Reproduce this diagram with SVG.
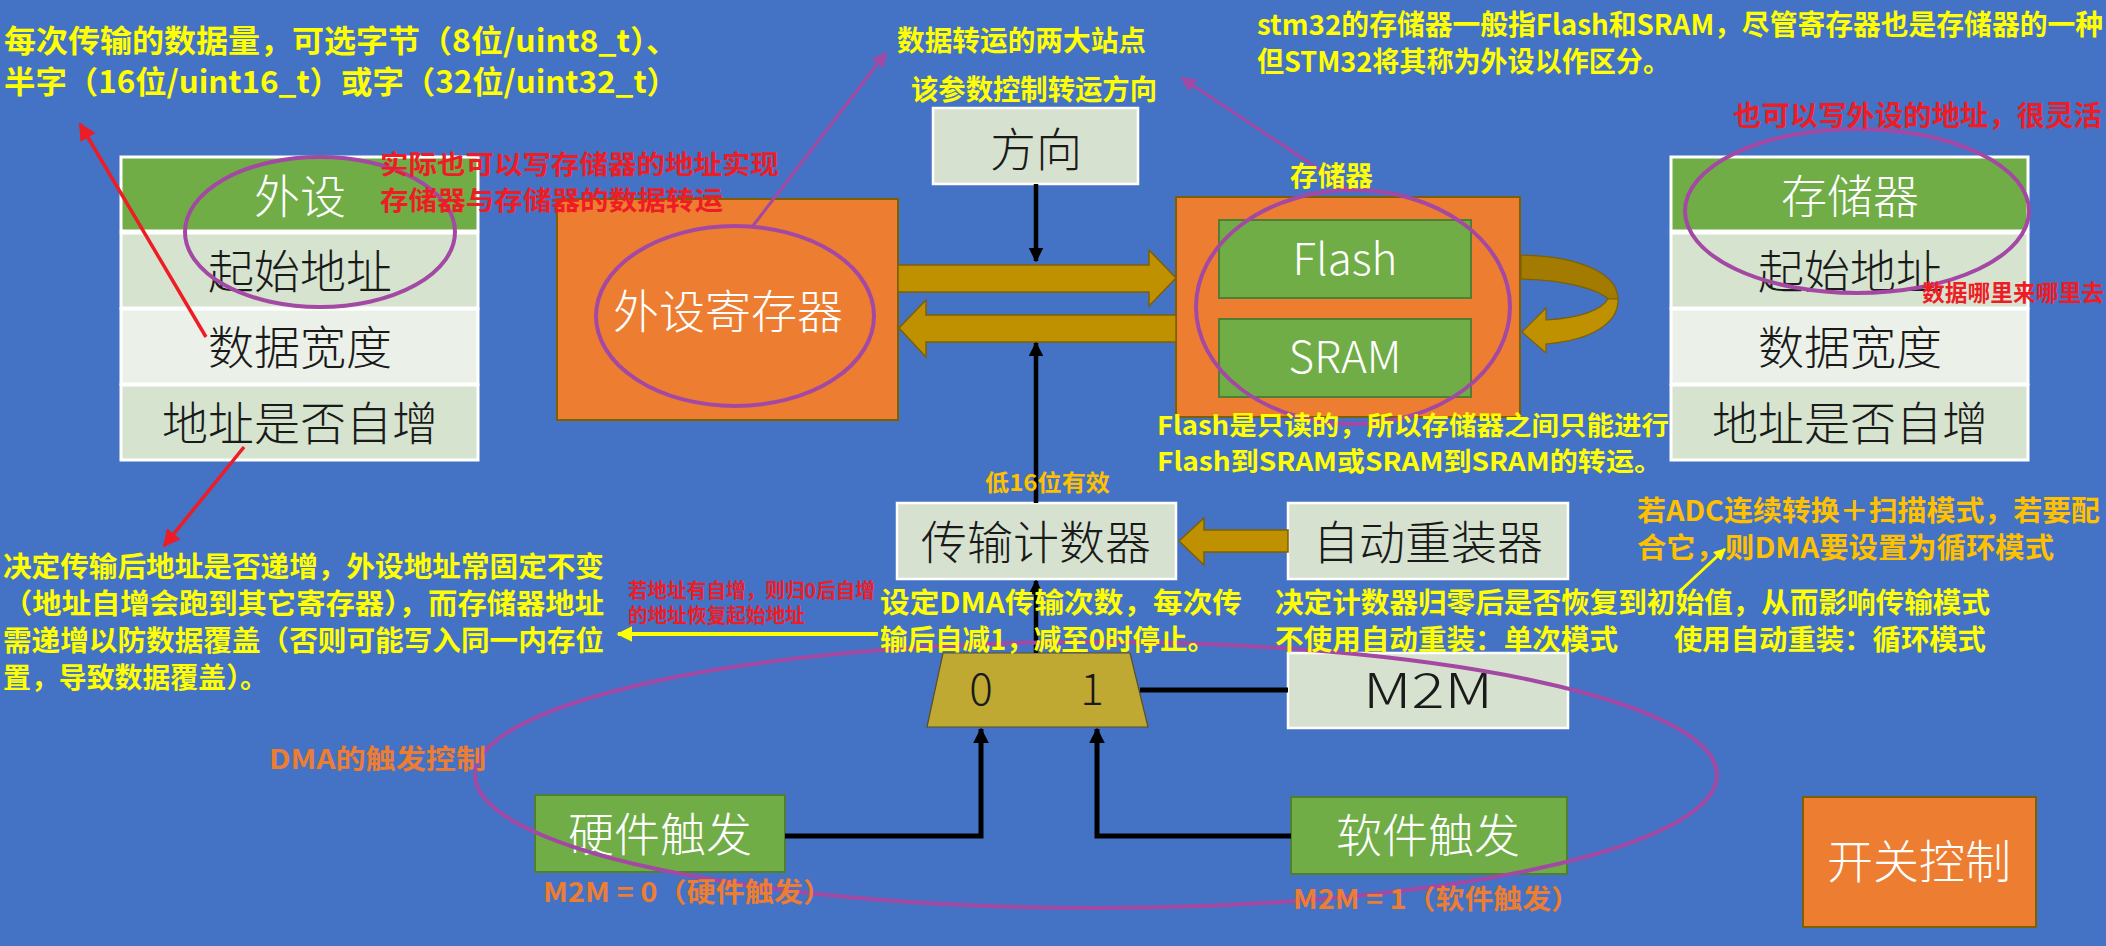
<svg xmlns="http://www.w3.org/2000/svg" width="2106" height="946" viewBox="0 0 2106 946">
<defs>
<style>
text{font-family:"Noto Sans CJK SC","Noto Sans",sans-serif}
.lbl{font-size:46px;font-weight:300;fill:#1a1a1a;text-anchor:middle}
.wl{font-size:46px;font-weight:300;fill:#ffffff;text-anchor:middle}
.ann{font-weight:bold;font-size:28px}
.y{fill:#FFFF00}
.r{fill:#EE1C25}
.g{fill:#FFC000}
.o{fill:#ED7D31}
.hdr{fill:#70AD47;stroke:#ffffff;stroke-width:3}
.row1{fill:#D5E3CF;stroke:#ffffff;stroke-width:3}
.row2{fill:#EBF1E9;stroke:#ffffff;stroke-width:3}
.lbox{fill:#D6E2CF;stroke:#ffffff;stroke-width:2.5}
.obox{fill:#ED7D31;stroke:#7F6000;stroke-width:2}
.gbox{fill:#70AD47;stroke:#507E32;stroke-width:2}
.gold{fill:#BF9000;stroke:#7F6000;stroke-width:1.5}
.ell{fill:none;stroke:#A349A4;stroke-width:4}
.blk{fill:none;stroke:#000000;stroke-width:5}
.pl{fill:none;stroke:#A349A4;stroke-width:3}
.rl{fill:none;stroke:#EE1C25;stroke-width:3.5}
.yl{fill:none;stroke:#FFFF00;stroke-width:4}
</style>
<marker id="ah-blk" viewBox="0 0 10 10" refX="9" refY="5" markerWidth="3.2" markerHeight="3.2" orient="auto" markerUnits="strokeWidth"><path d="M0,0 L10,5 L0,10 Z" fill="#000"/></marker>
<marker id="ah-p" viewBox="0 0 10 10" refX="9" refY="5" markerWidth="5" markerHeight="5" orient="auto" markerUnits="strokeWidth"><path d="M0,0 L10,5 L0,10 Z" fill="#A349A4"/></marker>
<marker id="ah-r" viewBox="0 0 10 10" refX="9" refY="5" markerWidth="5" markerHeight="5" orient="auto" markerUnits="strokeWidth"><path d="M0,0 L10,5 L0,10 Z" fill="#EE1C25"/></marker>
<marker id="ah-y" viewBox="0 0 10 10" refX="9" refY="5" markerWidth="4" markerHeight="4" orient="auto" markerUnits="strokeWidth"><path d="M0,0 L10,5 L0,10 Z" fill="#FFFF00"/></marker>
</defs>
<rect x="0" y="0" width="2106" height="946" fill="#4472C4"/>

<!-- peripheral table -->
<g id="table-peripheral">
<rect class="hdr" x="121" y="157" width="357" height="74"/>
<rect class="row1" x="121" y="233" width="357" height="75"/>
<rect class="row2" x="121" y="309" width="357" height="75"/>
<rect class="row1" x="121" y="385" width="357" height="75"/>
<text class="wl" x="300" y="213">外设</text>
<text class="lbl" x="300" y="288">起始地址</text>
<text class="lbl" x="300" y="364">数据宽度</text>
<text class="lbl" x="300" y="440">地址是否自增</text>
</g>

<!-- memory table -->
<g id="table-memory">
<rect class="hdr" x="1671" y="157" width="357" height="74"/>
<rect class="row1" x="1671" y="233" width="357" height="75"/>
<rect class="row2" x="1671" y="309" width="357" height="75"/>
<rect class="row1" x="1671" y="385" width="357" height="75"/>
<text class="wl" x="1850" y="213">存储器</text>
<text class="lbl" x="1850" y="288">起始地址</text>
<text class="lbl" x="1850" y="364">数据宽度</text>
<text class="lbl" x="1850" y="440">地址是否自增</text>
</g>

<g id="node-periph-reg">
<rect class="obox" x="557" y="199" width="341" height="221"/>
<text class="wl" x="728" y="328">外设寄存器</text>
</g>

<g id="node-direction">
<rect class="lbox" x="933" y="108" width="205" height="76"/>
<text class="lbl" x="1036" y="166">方向</text>
</g>

<g id="node-memory">
<rect class="obox" x="1176" y="197" width="344" height="220"/>
<rect class="gbox" x="1219" y="220" width="252" height="78"/>
<text class="wl" x="1345" y="275" style="font-size:44px">Flash</text>
<rect class="gbox" x="1219" y="319" width="252" height="78"/>
<text class="wl" x="1345" y="373" style="font-size:44px">SRAM</text>
</g>

<g id="node-counter">
<rect class="lbox" x="897" y="503" width="279" height="76"/>
<text class="lbl" x="1036" y="559">传输计数器</text>
</g>

<g id="node-reload">
<rect class="lbox" x="1288" y="503" width="280" height="76"/>
<text class="lbl" x="1428" y="559">自动重装器</text>
</g>

<g id="node-m2m">
<rect class="lbox" x="1288" y="653" width="280" height="75"/>
<text class="lbl" x="1428" y="708" style="font-size:48px" textLength="130" lengthAdjust="spacingAndGlyphs">M2M</text>
</g>

<g id="node-mux">
<path d="M943,653 L1130,653 L1148,727 L927,727 Z" fill="#BFA933" stroke="#5a5020" stroke-width="1.2"/>
<text class="lbl" x="981" y="705" style="font-size:44px">0</text>
<text class="lbl" x="1092" y="705" style="font-size:44px">1</text>
</g>

<g id="node-hw-trigger">
<rect class="gbox" x="535" y="795" width="250" height="77"/>
<text class="wl" x="660" y="851">硬件触发</text>
</g>

<g id="node-sw-trigger">
<rect class="gbox" x="1291" y="797" width="276" height="77"/>
<text class="wl" x="1428" y="852">软件触发</text>
</g>

<g id="node-switch">
<rect class="obox" x="1803" y="797" width="233" height="130"/>
<text class="wl" x="1919" y="878">开关控制</text>
</g>

<!-- connectors -->
<g id="connectors">
<path class="gold" d="M898,265 L1149,265 L1149,250 L1176,278 L1149,306 L1149,292 L898,292 Z"/>
<path class="gold" d="M1176,315 L926,315 L926,300 L899,328 L926,357 L926,342 L1176,342 Z"/>
<path class="gold" d="M1288,530 L1204,530 L1204,518 L1179,541 L1204,565 L1204,552 L1288,552 Z"/>
<path d="M1521,255 C1580,256 1618,274 1618,299 L1608,299 C1598,289 1565,280 1521,279 Z" fill="#A27B00" stroke="#7F6000" stroke-width="1.2"/>
<path d="M1618,299 C1619,323 1592,340 1546,344 L1546,353 L1522,332 L1546,308 L1546,320 C1580,318 1602,310 1608,299 Z" fill="#BF9000" stroke="#7F6000" stroke-width="1.2"/>
<line x1="1036" y1="184" x2="1036" y2="261" stroke="#000" stroke-width="4.5" marker-end="url(#ah-blk)"/>
<line x1="1036" y1="503" x2="1036" y2="343" stroke="#000" stroke-width="4.5" marker-end="url(#ah-blk)"/>
<line x1="1036" y1="653" x2="1036" y2="581" stroke="#000" stroke-width="4.5" marker-end="url(#ah-blk)"/>
<polyline class="blk" points="785,836 981,836 981,729" marker-end="url(#ah-blk)"/>
<polyline class="blk" points="1291,836 1097,836 1097,729" marker-end="url(#ah-blk)"/>
<line class="blk" x1="1140" y1="690" x2="1288" y2="690"/>
</g>

<!-- highlight ellipses -->
<g id="highlights">
<ellipse class="ell" cx="320" cy="232" rx="135" ry="75"/>
<ellipse class="ell" cx="735" cy="316" rx="139" ry="90"/>
<ellipse class="ell" cx="1353" cy="307" rx="157" ry="117"/>
<ellipse class="ell" cx="1857" cy="211" rx="172" ry="82"/>
<ellipse class="ell" cx="1096" cy="775" rx="621" ry="133"/>
</g>

<!-- annotation pointers -->
<g id="annotation-arrows">
<line class="pl" x1="752" y1="227" x2="886" y2="53" marker-end="url(#ah-p)"/>
<line class="pl" x1="1350" y1="190" x2="1182" y2="78" marker-end="url(#ah-p)"/>
<line class="rl" x1="206" y1="337" x2="80" y2="124" marker-end="url(#ah-r)"/>
<line class="rl" x1="244" y1="447" x2="164" y2="546" marker-end="url(#ah-r)"/>
<line class="yl" x1="878" y1="634" x2="618" y2="634" marker-end="url(#ah-y)"/>
<line x1="1679" y1="592" x2="1725" y2="549" stroke="#FFFF00" stroke-width="3" marker-end="url(#ah-y)"/>
</g>

<!-- annotations -->
<g id="annotations">
<text class="ann y" x="4" y="52" style="font-size:31px" textLength="674" lengthAdjust="spacingAndGlyphs">每次传输的数据量，可选字节（8位/uint8_t）、</text>
<text class="ann y" x="4" y="93" style="font-size:31px" textLength="674" lengthAdjust="spacingAndGlyphs">半字（16位/uint16_t）或字（32位/uint32_t）</text>
<text class="ann y" x="897" y="51" textLength="249" lengthAdjust="spacingAndGlyphs">数据转运的两大站点</text>
<text class="ann y" x="911" y="100" textLength="246" lengthAdjust="spacingAndGlyphs">该参数控制转运方向</text>
<text class="ann y" x="1257" y="35" textLength="846" lengthAdjust="spacingAndGlyphs">stm32的存储器一般指Flash和SRAM，尽管寄存器也是存储器的一种</text>
<text class="ann y" x="1257" y="72" textLength="413" lengthAdjust="spacingAndGlyphs">但STM32将其称为外设以作区分。</text>
<text class="ann r" x="380" y="174" style="font-size:26px" textLength="399" lengthAdjust="spacingAndGlyphs">实际也可以写存储器的地址实现</text>
<text class="ann r" x="380" y="210" style="font-size:26px" textLength="343" lengthAdjust="spacingAndGlyphs">存储器与存储器的数据转运</text>
<text class="ann r" x="1733" y="126" textLength="369" lengthAdjust="spacingAndGlyphs">也可以写外设的地址，很灵活</text>
<text class="ann y" x="1290" y="186" style="font-size:27px" textLength="83" lengthAdjust="spacingAndGlyphs">存储器</text>
<text class="ann r" x="1922" y="301" style="font-size:23px" textLength="182" lengthAdjust="spacingAndGlyphs">数据哪里来哪里去</text>
<text class="ann y" x="1157" y="435" style="font-size:26px" textLength="512" lengthAdjust="spacingAndGlyphs">Flash是只读的，所以存储器之间只能进行</text>
<text class="ann y" x="1157" y="471" style="font-size:26px" textLength="505" lengthAdjust="spacingAndGlyphs">Flash到SRAM或SRAM到SRAM的转运。</text>
<text class="ann g" x="985" y="491" style="font-size:23px" textLength="125" lengthAdjust="spacingAndGlyphs">低16位有效</text>
<text class="ann g" x="1637" y="521" textLength="463" lengthAdjust="spacingAndGlyphs">若ADC连续转换＋扫描模式，若要配</text>
<text class="ann g" x="1637" y="558" textLength="417" lengthAdjust="spacingAndGlyphs">合它，则DMA要设置为循环模式</text>
<text class="ann y" x="3" y="577" textLength="601" lengthAdjust="spacingAndGlyphs">决定传输后地址是否递增，外设地址常固定不变</text>
<text class="ann y" x="3" y="614" textLength="601" lengthAdjust="spacingAndGlyphs">（地址自增会跑到其它寄存器），而存储器地址</text>
<text class="ann y" x="3" y="651" textLength="601" lengthAdjust="spacingAndGlyphs">需递增以防数据覆盖（否则可能写入同一内存位</text>
<text class="ann y" x="3" y="688" textLength="265" lengthAdjust="spacingAndGlyphs">置，导致数据覆盖）。</text>
<text class="ann r" x="628" y="598" style="font-size:20px" textLength="247" lengthAdjust="spacingAndGlyphs">若地址有自增，则归0后自增</text>
<text class="ann r" x="628" y="623" style="font-size:20px" textLength="177" lengthAdjust="spacingAndGlyphs">的地址恢复起始地址</text>
<text class="ann y" x="880" y="613" textLength="362" lengthAdjust="spacingAndGlyphs">设定DMA传输次数，每次传</text>
<text class="ann y" x="880" y="650" textLength="335" lengthAdjust="spacingAndGlyphs">输后自减1，减至0时停止。</text>
<text class="ann y" x="1275" y="613" textLength="715" lengthAdjust="spacingAndGlyphs">决定计数器归零后是否恢复到初始值，从而影响传输模式</text>
<text class="ann y" x="1275" y="650" textLength="343" lengthAdjust="spacingAndGlyphs">不使用自动重装：单次模式</text>
<text class="ann y" x="1674" y="650" textLength="312" lengthAdjust="spacingAndGlyphs">使用自动重装：循环模式</text>
<text class="ann o" x="269" y="769" style="font-size:27px" textLength="217" lengthAdjust="spacingAndGlyphs">DMA的触发控制</text>
<text class="ann o" x="543" y="902" style="font-size:27px" textLength="289" lengthAdjust="spacingAndGlyphs">M2M = 0（硬件触发）</text>
<text class="ann o" x="1293" y="909" style="font-size:27px" textLength="287" lengthAdjust="spacingAndGlyphs">M2M = 1（软件触发）</text>
</g>
</svg>
